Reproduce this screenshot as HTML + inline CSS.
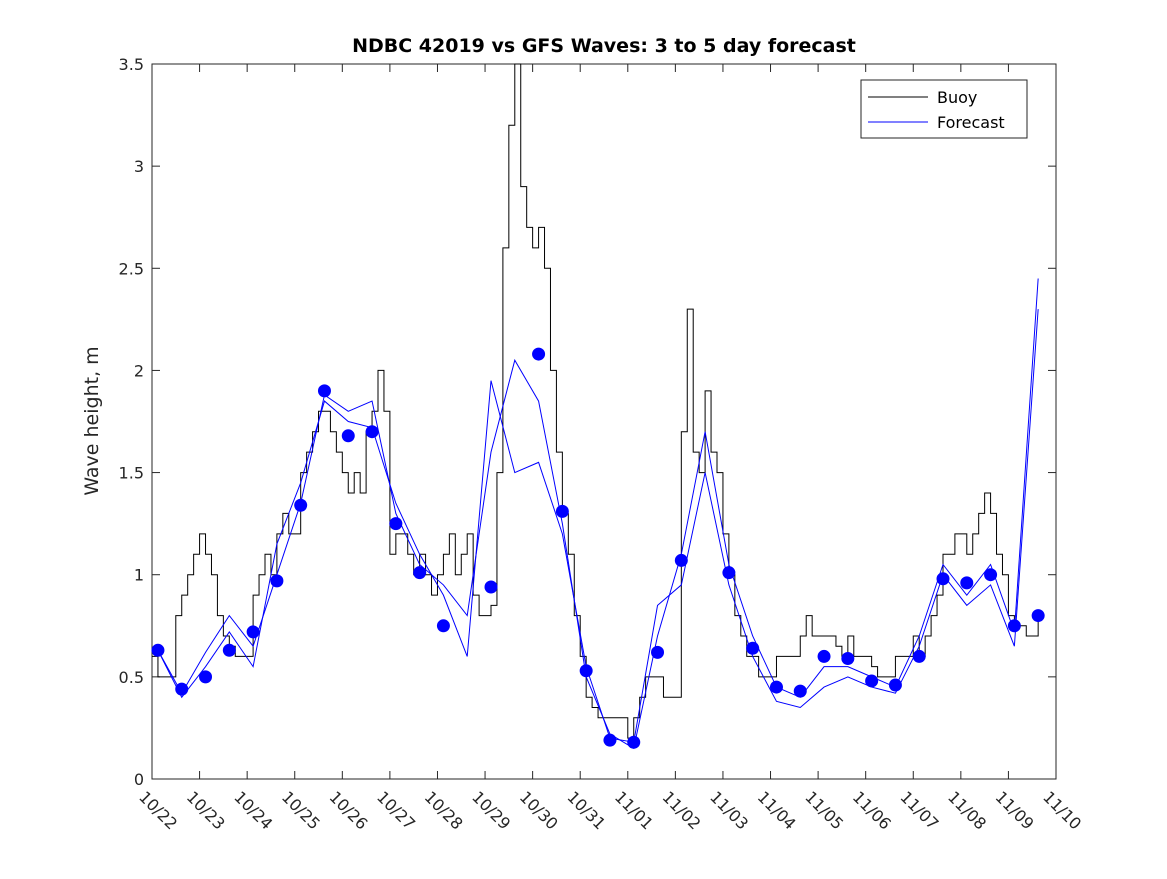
<!DOCTYPE html>
<html><head><meta charset="utf-8"><style>
body{margin:0;background:#fff;font-family:"DejaVu Sans",sans-serif}
svg text{font-family:"DejaVu Sans","Liberation Sans",sans-serif}
</style></head><body>
<svg id="c" width="1167" height="875"></svg>
<script>
const yTicks=[0,0.5,1,1.5,2,2.5,3,3.5];
const yTickLabels=["0","0.5","1","1.5","2","2.5","3","3.5"];
const xTickLabels=["10/22","10/23","10/24","10/25","10/26","10/27","10/28","10/29","10/30","10/31","11/01","11/02","11/03","11/04","11/05","11/06","11/07","11/08","11/09","11/10"];
// buoy every 0.125 day starting 10/22
const buoy=[0.6,0.5,0.5,0.5,0.8,0.9,1.0,1.1,
1.2,1.1,1.0,0.8,0.7,0.65,0.6,0.6,
0.6,0.9,1.0,1.1,1.0,1.2,1.3,1.2,
1.2,1.5,1.6,1.7,1.8,1.8,1.7,1.6,
1.5,1.4,1.5,1.4,1.7,1.8,2.0,1.8,
1.1,1.2,1.2,1.1,1.0,1.1,1.0,0.9,
1.0,1.1,1.2,1.0,1.1,1.2,0.9,0.8,
0.8,0.85,1.5,2.6,3.2,3.5,2.9,2.7,
2.6,2.7,2.5,2.0,1.6,1.3,1.1,0.8,
0.6,0.4,0.35,0.3,0.3,0.3,0.3,0.3,
0.2,0.3,0.4,0.5,0.5,0.5,0.4,0.4,
0.4,1.7,2.3,1.6,1.5,1.9,1.6,1.5,
1.2,1.0,0.8,0.7,0.6,0.6,0.5,0.5,
0.5,0.6,0.6,0.6,0.6,0.7,0.8,0.7,
0.7,0.7,0.7,0.65,0.6,0.7,0.6,0.6,
0.6,0.55,0.5,0.5,0.5,0.6,0.6,0.6,
0.7,0.6,0.7,0.8,0.9,1.1,1.1,1.2,
1.2,1.1,1.2,1.3,1.4,1.3,1.1,1.0,
0.8,0.75,0.75,0.7,0.7,0.8];
// forecast dots every 0.5 day starting day 0.125
const dots=[0.63,0.44,0.50,0.63,0.72,0.97,1.34,1.90,1.68,1.70,1.25,1.01,0.75,null,0.94,null,2.08,1.31,0.53,0.19,0.18,0.62,1.07,null,1.01,0.64,0.45,0.43,0.60,0.59,0.48,0.46,0.60,0.98,0.96,1.00,0.75,0.80];
const fcA=[0.63,0.42,0.62,0.80,0.65,1.0,1.35,1.88,1.80,1.85,1.30,1.05,0.95,0.80,1.60,2.05,1.85,1.25,0.50,0.22,0.15,0.70,1.10,1.70,1.05,0.70,0.45,0.40,0.55,0.55,0.50,0.45,0.70,1.05,0.90,1.05,0.72,2.45];
const fcB=[0.63,0.40,0.55,0.72,0.55,1.15,1.45,1.85,1.75,1.72,1.35,1.10,0.90,0.60,1.95,1.50,1.55,1.20,0.55,0.20,0.18,0.85,0.95,1.50,0.95,0.60,0.38,0.35,0.45,0.50,0.45,0.42,0.65,1.00,0.85,0.95,0.65,2.30];
const x0=152,x1=1056,y0=779,y1=64;
const X=d=>x0+d*(x1-x0)/19, Y=v=>y0-v*(y0-y1)/3.5;
const s=document.getElementById('c'),NS="http://www.w3.org/2000/svg";
function mk(t,a,p){const e=document.createElementNS(NS,t);for(const k in a)e.setAttribute(k,a[k]);(p||s).appendChild(e);return e;}
let e=mk('rect',{x:x0,y:y1,width:x1-x0,height:y0-y1,fill:'#fff',stroke:'#262626'});


yTicks.forEach((v,i)=>{mk('line',{x1:x0,x2:x0+8,y1:Y(v),y2:Y(v),stroke:'#262626'});mk('line',{x1:x1,x2:x1-8,y1:Y(v),y2:Y(v),stroke:'#262626'});
 const t=mk('text',{x:x0-8,y:Y(v)+6,'text-anchor':'end','font-size':16,fill:'#262626'});t.textContent=yTickLabels[i];
 
 });
xTickLabels.forEach((l,i)=>{const x=X(i);mk('line',{x1:x,x2:x,y1:y0,y2:y0-8,stroke:'#262626'});mk('line',{x1:x,x2:x,y1:y1,y2:y1+8,stroke:'#262626'});
 const t=mk('text',{x:x-14,y:y0+19,'font-size':16,fill:'#262626',transform:`rotate(45 ${x-14} ${y0+19})`});t.textContent=l;
 
 });
let d='';buoy.forEach((v,i)=>{const xa=X(i*0.125),xb=X((i+1)*0.125);d+=(i?'L':'M')+xa+' '+Y(v)+'L'+xb+' '+Y(v);});
e=mk('path',{d,fill:'none',stroke:'#000','stroke-width':1});


[fcA,fcB].forEach((arr,k)=>{let p='';arr.forEach((v,i)=>{p+=(i?'L':'M')+X(0.125+i*0.5)+' '+Y(v);});
 const l=mk('path',{d:p,fill:'none',stroke:'#0000ff','stroke-width':1});
 
 });
dots.forEach((v,i)=>{if(v===null)return;const c=mk('circle',{cx:X(0.125+i*0.5),cy:Y(v),r:6.5,fill:'#0000ff'});
 
 });
let t=mk('text',{x:604,y:52,'text-anchor':'middle','font-size':19,'font-weight':'bold',fill:'#000'});t.textContent='NDBC 42019 vs GFS Waves: 3 to 5 day forecast';


t=mk('text',{x:98,y:421,'text-anchor':'middle','font-size':19,fill:'#262626',transform:'rotate(-90 98 421)'});t.textContent='Wave height, m';


const g=mk('g',{});


mk('rect',{x:861,y:80,width:166,height:58,fill:'#fff',stroke:'#262626'},g);
mk('line',{x1:868,x2:928,y1:97,y2:97,stroke:'#000'},g);
mk('line',{x1:868,x2:928,y1:122,y2:122,stroke:'#0000ff'},g);
t=mk('text',{x:937,y:103,'font-size':16,fill:'#000'},g);t.textContent='Buoy';


t=mk('text',{x:937,y:128,'font-size':16,fill:'#000'},g);t.textContent='Forecast';


</script></body></html>
